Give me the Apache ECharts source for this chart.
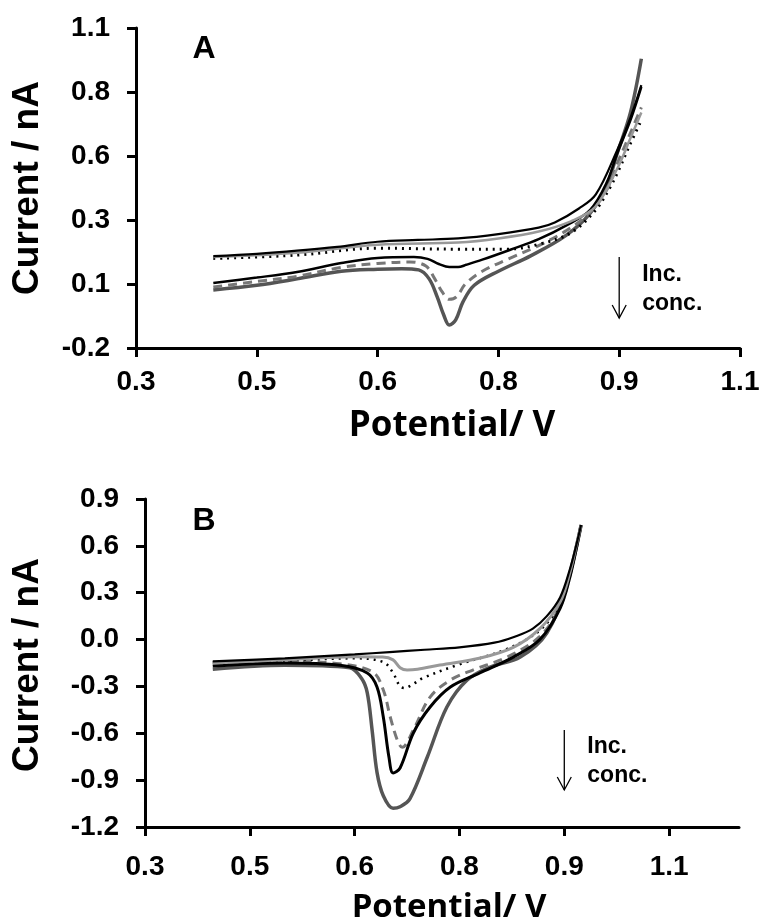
<!DOCTYPE html>
<html><head><meta charset="utf-8">
<script src="https://cdn.jsdelivr.net/npm/echarts@6/dist/echarts.min.js"></script>
<style>html,body{margin:0;padding:0;background:#fff}#c{width:760px;height:924px}</style>
</head><body><div id="c"></div><script>
// ---- Tick values & labels ----
const xTickValues = [0.3, 0.45, 0.6, 0.75, 0.9, 1.05];
const xTickLabels = ['0.3', '0.5', '0.6', '0.8', '0.9', '1.1'];
const yTickValuesA = [-0.2, 0.05, 0.3, 0.55, 0.8, 1.05];
const yTickLabelsA = ['-0.2', '0.1', '0.3', '0.6', '0.8', '1.1'];
const yTickValuesB = [-1.2, -0.9, -0.6, -0.3, 0.0, 0.3, 0.6, 0.9];
const yTickLabelsB = ['-1.2', '-0.9', '-0.6', '-0.3', '0.0', '0.3', '0.6', '0.9'];

// ---- Panel A curves [potential V, current nA] ----
const aBlackTop = [[0.396,0.159],[0.45,0.168],[0.5,0.18],[0.55,0.195],[0.6,0.215],[0.65,0.222],[0.7,0.228],[0.75,0.245],[0.8,0.27],[0.82,0.29],[0.85,0.345],[0.871,0.40],[0.8975,0.573],[0.914,0.70],[0.9275,0.827]];
const aLightGray = [[0.396,0.155],[0.5,0.172],[0.6,0.203],[0.7,0.212],[0.75,0.228],[0.8,0.255],[0.84,0.295],[0.87,0.35],[0.8975,0.5],[0.914,0.62],[0.9275,0.72]];
const aDotted = [[0.396,0.15],[0.5,0.163],[0.6,0.19],[0.7,0.186],[0.76,0.186],[0.8,0.205],[0.84,0.25],[0.871,0.34],[0.889,0.43],[0.9,0.5],[0.914,0.6],[0.9275,0.69]];
const aBlackLow = [[0.396,0.054],[0.45,0.075],[0.5,0.097],[0.555,0.132],[0.6,0.152],[0.645,0.155],[0.662,0.148],[0.676,0.128],[0.689,0.116],[0.7,0.116],[0.71,0.125],[0.73,0.145],[0.764,0.183],[0.8,0.225],[0.835,0.28],[0.864,0.34],[0.885,0.45],[0.8975,0.56],[0.914,0.69],[0.9275,0.82]];
const aDashed = [[0.396,0.038],[0.45,0.06],[0.5,0.08],[0.555,0.115],[0.6,0.13],[0.64,0.136],[0.66,0.12],[0.671,0.07],[0.68,0.02],[0.689,-0.01],[0.698,0.0],[0.709,0.05],[0.73,0.1],[0.764,0.15],[0.8,0.2],[0.835,0.26],[0.864,0.33],[0.885,0.42],[0.8975,0.52],[0.914,0.64],[0.9275,0.74]];
const aDarkGray = [[0.396,0.027],[0.45,0.045],[0.5,0.07],[0.555,0.1],[0.6,0.108],[0.63,0.11],[0.651,0.105],[0.664,0.07],[0.674,0.0],[0.682,-0.07],[0.689,-0.11],[0.697,-0.09],[0.706,-0.02],[0.72,0.045],[0.75,0.1],[0.79,0.16],[0.834,0.24],[0.864,0.327],[0.885,0.44],[0.8975,0.56],[0.914,0.72],[0.9275,0.93]];

// ---- Panel B curves ----
const bBlackTop = [[0.397,-0.14],[0.5,-0.12],[0.6,-0.095],[0.65,-0.08],[0.7,-0.065],[0.75,-0.05],[0.8,-0.02],[0.83,0.02],[0.855,0.07],[0.875,0.15],[0.894,0.27],[0.908,0.45],[0.918,0.62],[0.924,0.733]];
const bLightGray = [[0.397,-0.15],[0.5,-0.13],[0.6,-0.11],[0.64,-0.112],[0.655,-0.13],[0.665,-0.18],[0.675,-0.195],[0.69,-0.19],[0.722,-0.163],[0.78,-0.118],[0.827,-0.05],[0.865,0.07],[0.894,0.24],[0.908,0.43],[0.918,0.62],[0.924,0.733]];
const bDotted = [[0.397,-0.145],[0.5,-0.135],[0.6,-0.12],[0.641,-0.144],[0.655,-0.214],[0.665,-0.3],[0.672,-0.31],[0.682,-0.29],[0.698,-0.246],[0.747,-0.163],[0.818,-0.06],[0.865,0.06],[0.894,0.23],[0.908,0.42],[0.918,0.61],[0.924,0.733]];
const bBlackSolid = [[0.397,-0.17],[0.5,-0.15],[0.579,-0.165],[0.618,-0.214],[0.632,-0.304],[0.641,-0.496],[0.649,-0.75],[0.655,-0.854],[0.665,-0.822],[0.684,-0.598],[0.708,-0.432],[0.737,-0.304],[0.779,-0.214],[0.827,-0.112],[0.865,0.0],[0.894,0.2],[0.908,0.4],[0.918,0.6],[0.924,0.733]];
const bDashed = [[0.397,-0.16],[0.5,-0.14],[0.579,-0.155],[0.626,-0.208],[0.641,-0.323],[0.651,-0.496],[0.661,-0.643],[0.668,-0.69],[0.684,-0.579],[0.708,-0.368],[0.737,-0.259],[0.769,-0.195],[0.818,-0.112],[0.865,0.02],[0.894,0.21],[0.908,0.41],[0.918,0.61],[0.924,0.733]];
const bDarkGray = [[0.397,-0.19],[0.5,-0.165],[0.593,-0.18],[0.61,-0.25],[0.618,-0.34],[0.625,-0.58],[0.632,-0.85],[0.641,-1.0],[0.655,-1.08],[0.665,-1.07],[0.679,-1.02],[0.704,-0.752],[0.732,-0.432],[0.761,-0.259],[0.794,-0.176],[0.837,-0.112],[0.875,0.042],[0.904,0.362],[0.924,0.733]];

// ---- Annotation arrows (data coordinates) ----
const arrowA = {x: 0.9, from: 0.155, to: -0.083};
const arrowB = {x: 0.9, from: -0.579, to: -0.963};

const lab = (vals, labels) => v => { for (let i = 0; i < vals.length; i++) if (Math.abs(v - vals[i]) < 1e-6) return labels[i]; return ''; };
const tickFont = {fontSize: 28, fontWeight: 'bold', fontFamily: 'Liberation Sans, Arial, sans-serif', color: '#000'};

function xAxis(gi, max, margin) {
  return {gridIndex: gi, type: 'value', min: 0.3, max: max,
    axisLine: {onZero: false, lineStyle: {color: '#000', width: 3}},
    axisTick: {length: 9, lineStyle: {color: '#000', width: 3}, customValues: xTickValues},
    axisLabel: Object.assign({customValues: xTickValues, formatter: lab(xTickValues, xTickLabels), margin: margin}, tickFont),
    splitLine: {show: false}};
}
function yAxis(gi, min, max, vals, labels) {
  return {gridIndex: gi, type: 'value', min: min, max: max,
    axisLine: {onZero: false, lineStyle: {color: '#000', width: 3}},
    axisTick: {length: 9, lineStyle: {color: '#000', width: 3}, customValues: vals},
    axisLabel: Object.assign({customValues: vals, formatter: lab(vals, labels), margin: 26}, tickFont),
    splitLine: {show: false}};
}
function ser(gi, data, color, width, type) {
  return {type: 'line', xAxisIndex: gi, yAxisIndex: gi, data: data, showSymbol: false, symbol: 'none',
    smooth: 0.35, lineStyle: {color: color, width: width, type: type || 'solid'}, animation: false, z: 3};
}

const chart = echarts.init(document.getElementById('c'), null, {renderer: 'canvas'});
chart.setOption({
  backgroundColor: '#fff',
  animation: false,
  grid: [
    {left: 136, top: 28, width: 604, height: 320, containLabel: false, outerBoundsMode: 'none'},
    {left: 145, top: 499, width: 594, height: 328, containLabel: false, outerBoundsMode: 'none'}
  ],
  xAxis: [xAxis(0, 1.05, 20), xAxis(1, 1.15, 26)],
  yAxis: [yAxis(0, -0.2, 1.05, yTickValuesA, yTickLabelsA), yAxis(1, -1.2, 0.9, yTickValuesB, yTickLabelsB)],
  series: [
    ser(0, aDarkGray, '#555', 3.5), ser(0, aDashed, '#777', 3, [9, 6]), ser(0, aBlackLow, '#000', 2.5),
    ser(0, aDotted, '#000', 3, [2, 5]), ser(0, aLightGray, '#999', 2.5), ser(0, aBlackTop, '#000', 2.2),
    ser(1, bDarkGray, '#555', 3.5), ser(1, bDashed, '#777', 3, [9, 6]), ser(1, bBlackSolid, '#000', 3),
    ser(1, bDotted, '#000', 2.5, [2, 5]), ser(1, bLightGray, '#999', 3), ser(1, bBlackTop, '#000', 2.2)
  ]
});

function arrowGraphics(gi, ar) {
  const p1 = chart.convertToPixel({gridIndex: gi}, [ar.x, ar.from]);
  const p2 = chart.convertToPixel({gridIndex: gi}, [ar.x, ar.to]);
  const st = {stroke: '#000', lineWidth: 1.3, fill: null};
  return [
    {type: 'line', shape: {x1: p1[0], y1: p1[1], x2: p2[0], y2: p2[1]}, style: st},
    {type: 'polyline', shape: {points: [[p2[0] - 7, p2[1] - 13], [p2[0], p2[1]], [p2[0] + 7, p2[1] - 13]]}, style: st}
  ];
}
const bold = 'Liberation Sans, Arial, sans-serif';
function txt(x, y, s, size, family, rot) {
  return {type: 'text', x: x, y: y, rotation: rot || 0,
    style: {text: s, fontSize: size, fontWeight: 'bold', fontFamily: family || bold, fill: '#000', align: 'center', verticalAlign: 'middle'}};
}
function ltxt(x, y, s, size) {
  return {type: 'text', x: x, y: y,
    style: {text: s, fontSize: size, fontWeight: 'bold', fontFamily: bold, fill: '#000', align: 'left', verticalAlign: 'middle'}};
}
const pa = chart.convertToPixel({gridIndex: 0}, [arrowA.x, arrowA.from]);
const pb = chart.convertToPixel({gridIndex: 1}, [arrowB.x, arrowB.from]);
chart.setOption({
  graphic: [].concat(
    arrowGraphics(0, arrowA), arrowGraphics(1, arrowB),
    [
      txt(204, 49, 'A', 32), txt(204, 521, 'B', 32),
      txt(28, 188, 'Current / nA', 37, bold, Math.PI / 2),
      txt(28, 665, 'Current / nA', 37, bold, Math.PI / 2),
      txt(452, 426, 'Potential/ V', 35, 'Open Sans, sans-serif'),
      txt(449, 908, 'Potential/ V', 33, 'Open Sans, sans-serif'),
      ltxt(pa[0] + 23, pa[1] + 18, 'Inc.', 23), ltxt(pa[0] + 23, pa[1] + 47, 'conc.', 23),
      ltxt(pb[0] + 23, pb[1] + 17, 'Inc.', 23), ltxt(pb[0] + 23, pb[1] + 46, 'conc.', 23)
    ])
});
</script></body></html>
